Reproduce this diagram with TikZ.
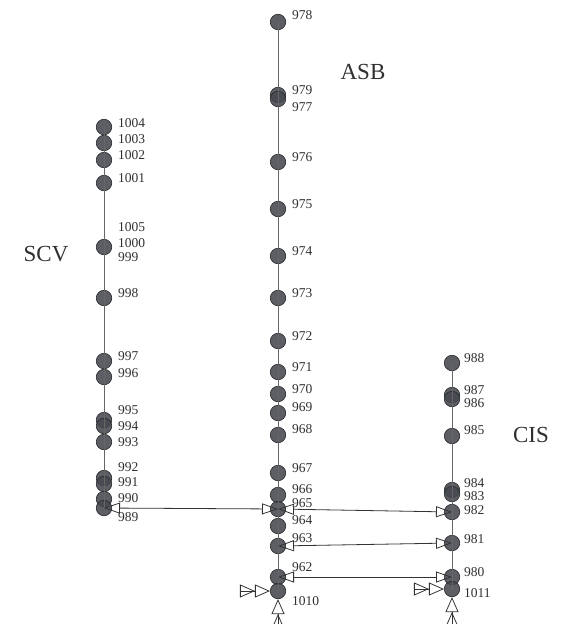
\documentclass[tikz,border=0pt]{standalone}
\usepackage{fontspec}
\setmainfont{Liberation Serif}
\usetikzlibrary{arrows.meta}
\definecolor{dotfill}{HTML}{45484F}
\definecolor{dotline}{HTML}{25272B}
\definecolor{txt}{HTML}{303030}
\tikzset{
  dot/.style={circle, minimum size=15.5pt, inner sep=0pt, fill=dotfill, fill opacity=0.88, draw=dotline, line width=0.6pt},
  lbl/.style={anchor=west, inner sep=0pt, text=txt, font=\fontsize{13.5}{13.5}\selectfont},
  grp/.style={inner sep=0pt, text=txt, font=\fontsize{23}{23}\selectfont},
  spine/.style={draw=black!60, line width=0.8pt},
  link/.style={draw=black!80, line width=0.8pt, {Triangle[open,length=16pt,width=11pt]}-{Triangle[open,length=16pt,width=11pt]}},
  dbl/.style={draw=black!80, line width=0.8pt, -{Triangle[open,length=15pt,width=13pt] Triangle[open,length=15pt,width=13pt]}}
}
\begin{document}
\begin{tikzpicture}[x=1pt,y=-1pt]
\useasboundingbox (0,0) rectangle (560,624);
% ASB column
\foreach \n/\y/\ly in {978/22/15, 979/95/90, 977/99/107, 976/162/157, 975/209/204, 974/256/251, 973/298/293, 972/341/336, 971/372/367, 970/394/389, 969/413/407, 968/435/429, 967/473/468, 966/495/489, 965/509/503, 964/526/520, 963/546/538, 962/577/567, 1010/591/601}
{ \node[dot] (n\n) at (278,\y) {}; \node[lbl] (l\n) at (292,\ly) {\n}; }
% SCV column
\foreach \n/\y/\ly in {1004/127/123, 1003/143/139, 1002/160/155, 1001/183/178, 1000/247/243, 998/298/293, 997/361/356, 996/377/373, 995/420/410, 994/426/426, 993/442/442, 992/478/467, 991/484/482, 990/499/498, 989/508/517}
{ \node[dot] (n\n) at (104,\y) {}; \node[lbl] (l\n) at (118,\ly) {\n}; }
\coordinate (n1005) at (104,247);
\coordinate (n999) at (104,247);
\node[lbl] (l1005) at (118,227) {1005};
\node[lbl] (l999) at (118,257) {999};
% CIS column
\foreach \n/\y/\ly in {988/363/358, 987/395/390, 986/399/403, 985/436/430, 984/490/483, 983/494/496, 982/512/510, 981/543/539, 980/577/572, 1011/589/593}
{ \node[dot] (n\n) at (452,\y) {}; \node[lbl] (l\n) at (464,\ly) {\n}; }
% group names
\node[grp] (asb) at (363,72) {ASB};
\node[grp] (scv) at (46,254) {SCV};
\node[grp] (cis) at (531,435) {CIS};
% spines
\draw[spine] (n978.center) -- (n1010.center);
\draw[spine] (n1004.center) -- (n989.center);
\draw[spine] (n988.center) -- (n1011.center);
% links
\draw[link] (n989.center) -- (n965.center);
\draw[link] (n965.center) -- (n982.center);
\draw[link] (n963.center) -- (n981.center);
\draw[link] (n962.center) -- (n980.center);
% incoming double arrows
\coordinate (a1010) at (240,591);
\coordinate (b1010) at (278,630);
\coordinate (a1011) at (414,589);
\coordinate (b1011) at (452,630);
\draw[dbl] (a1010) -- (n1010.west);
\draw[dbl] (b1010) -- (n1010.south);
\draw[dbl] (a1011) -- (n1011.west);
\draw[dbl] (b1011) -- (n1011.south);
\end{tikzpicture}
\end{document}
